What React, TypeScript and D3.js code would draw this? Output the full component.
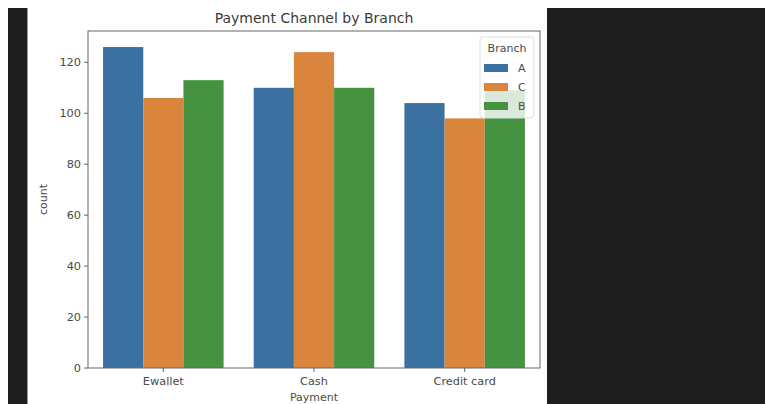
import React from "react";
import * as d3 from "d3";

const categories = ["Ewallet", "Cash", "Credit card"];
const branches = ["A", "C", "B"];
const valuesA = [126, 110, 104];
const valuesC = [106, 124, 98];
const valuesB = [113, 110, 109];
const yTicks = [0, 20, 40, 60, 80, 100, 120];
const colors = ["#3a71a0", "#da853e", "#459340"];

const W = 765;
const H = 404;
const left = 88, right = 540, top = 31, bottom = 368;

export default function App() {
  const series = [valuesA, valuesC, valuesB];
  const maxV = d3.max(series.flat()) as number;
  const y = d3.scaleLinear().domain([0, maxV * 1.05]).range([bottom, top]);
  const x = d3.scaleBand().domain(categories).range([left, right]).paddingInner(0).paddingOuter(0);
  const inner = d3.scaleBand().domain(branches).range([0, x.bandwidth() * 0.8]);
  const off = x.bandwidth() * 0.1;
  const font = "DejaVu Sans, sans-serif";
  const tc = "#4a4a4a";
  return (
    <svg width={W} height={H} style={{ position: "absolute", left: 0, top: 0 }} fontFamily={font}>
      <rect x={0} y={0} width={W} height={H} fill="#ffffff" />
      <rect x={8} y={8} width={W - 8} height={H - 8} fill="#1e1e1e" />
      <rect x={27} y={8} width={2} height={H - 8} fill="#9a9a9a" />
      <rect x={28} y={8} width={519} height={H - 8} fill="#ffffff" />
      <rect x={28} y={0} width={519} height={8} fill="#ffffff" />
      <text x={(left + right) / 2} y={23} textAnchor="middle" fontSize={14} fill="#3a3a3a">Payment Channel by Branch</text>
      {series.map((vals, si) =>
        vals.map((v, ci) => (
          <rect key={`${si}-${ci}`} x={(x(categories[ci]) as number) + off + (inner(branches[si]) as number)}
            y={y(v)} width={inner.bandwidth()} height={bottom - y(v)} fill={colors[si]} />
        ))
      )}
      <rect x={left} y={top} width={right - left} height={bottom - top} fill="none" stroke="#666" strokeWidth={1} />
      {yTicks.map((t) => (
        <g key={t}>
          <line x1={left - 4} x2={left} y1={y(t)} y2={y(t)} stroke="#666" />
          <text x={left - 7} y={y(t)} dy="0.35em" textAnchor="end" fontSize={11.3} fill={tc}>{t}</text>
        </g>
      ))}
      {categories.map((c) => {
        const cx = (x(c) as number) + x.bandwidth() / 2;
        return (
          <g key={c}>
            <line x1={cx} x2={cx} y1={bottom} y2={bottom + 4} stroke="#666" />
            <text x={cx} y={bottom + 17} textAnchor="middle" fontSize={11.3} fill={tc}>{c}</text>
          </g>
        );
      })}
      <text transform={`translate(47,${(top + bottom) / 2}) rotate(-90)`} textAnchor="middle" fontSize={11} fill={tc}>count</text>
      <text x={(left + right) / 2} y={401} textAnchor="middle" fontSize={11} fill={tc}>Payment</text>
      <g>
        <rect x={480} y={37} width={54} height={81} rx={3} fill="#ffffff" fillOpacity={0.8} stroke="#ddd" />
        <text x={507} y={52} textAnchor="middle" fontSize={11} fill={tc}>Branch</text>
        {branches.map((b, i) => (
          <g key={b}>
            <rect x={484} y={64 + i * 19} width={24} height={8} fill={colors[i]} />
            <text x={518} y={68 + i * 19} dy="0.35em" fontSize={11} fill={tc}>{b}</text>
          </g>
        ))}
      </g>
    </svg>
  );
}
